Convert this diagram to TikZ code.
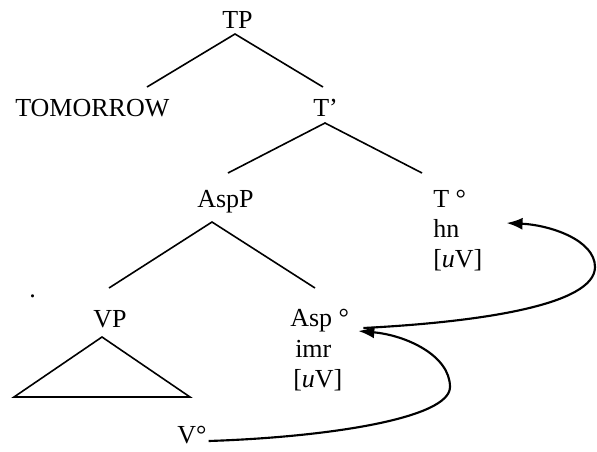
\documentclass[tikz,border=0pt]{standalone}
\usepackage{fontspec}
\setmainfont{Liberation Serif}
\usetikzlibrary{arrows.meta,calc}
\tikzset{
  lbl/.style={anchor=base west,inner sep=0pt,font=\fontsize{19.5}{23}\selectfont},
  branch/.style={line width=1.2pt},
  mv/.style={line width=1.6pt,-{Latex[length=12pt,width=9pt]}}
}
\begin{document}
\begin{tikzpicture}[x=0.75pt,y=-0.75pt]
\useasboundingbox (0,0) rectangle (597,451);
% labels
\node[lbl] (TP) at (222,28) {TP};
\node[lbl] (TOM) at (15,116) {TOMORROW};
\node[lbl] (Tbar) at (313,116) {T’};
\node[lbl] (AspP) at (197,207) {AspP};
\node[lbl] (T0) at (433,207) {T °};
\node[lbl] (hn) at (433,237) {hn};
\node[lbl] (TuV) at (433,267) {[\textit{u}V]};
\node[lbl] (VP) at (93,327) {VP};
\node[lbl] (dot) at (29,297) {.};
\node[lbl] (Asp) at (290,326) {Asp °};
\node[lbl] (imr) at (295,357) {imr};
\node[lbl] (AuV) at (293,387) {[\textit{u}V]};
\node[lbl] (Vo) at (177,443) {V°};
% branch points
\coordinate (tpA) at (235,34);
\coordinate (tpL) at (147,87);
\coordinate (tpR) at (323,87);
\coordinate (tbA) at (325,123);
\coordinate (tbL) at (228,173);
\coordinate (tbR) at (422,173);
\coordinate (apA) at (212,222);
\coordinate (apL) at (109,288);
\coordinate (apR) at (315,288);
\coordinate (vpA) at (102,337);
\coordinate (vpL) at (14,397);
\coordinate (vpR) at (190,397);
\draw[branch] (tpL) -- (tpA) -- (tpR);
\draw[branch] (tbL) -- (tbA) -- (tbR);
\draw[branch] (apL) -- (apA) -- (apR);
\draw[branch,line join=miter] (vpA) -- (vpL) -- (vpR) -- cycle;
% movement arrows
\coordinate (vs) at ($(Vo.base east)+(2,-2)$);
\coordinate (at) at ($(Asp.base east)+(9,5)$);
\coordinate (as) at ($(Asp.base east)+(14,2)$);
\coordinate (tt) at ($(hn.base east)+(47,-14)$);
\draw[mv] (vs) .. controls (330,437) and (450,418) .. (450,387)
  .. controls (450,355) and (405,335) .. (at);
\draw[mv] (as) .. controls (480,322) and (595,305) .. (595,267)
  .. controls (595,240) and (550,225) .. (tt);
\end{tikzpicture}
\end{document}
